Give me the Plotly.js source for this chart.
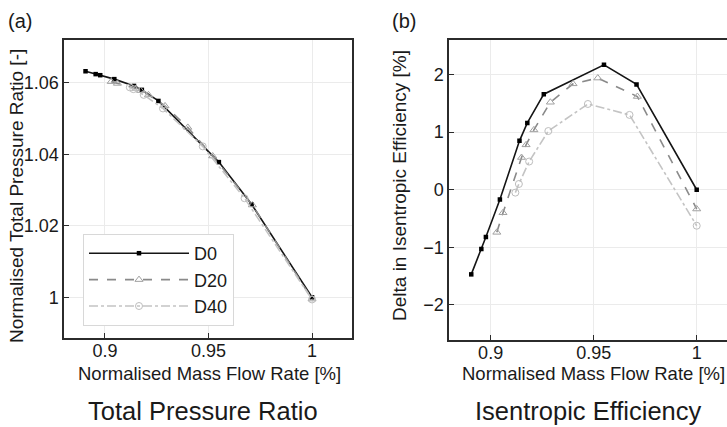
<!DOCTYPE html>
<html>
<head>
<meta charset="utf-8">
<script src="https://cdn.plot.ly/plotly-3.0.1.min.js"></script>
<style>html,body{margin:0;padding:0;background:#fff}#chart{width:727px;height:427px}</style>
</head>
<body>
<div id="chart"></div>
<script>
// ---- data ----
const seriesNames = ["D0", "D20", "D40"];

const massD0  = [0.8906, 0.8955, 0.8977, 0.9045, 0.914, 0.9178, 0.9258, 0.955, 0.9708, 1.0];
const prD0    = [1.0632, 1.0624, 1.0621, 1.061, 1.0591, 1.058, 1.0549, 1.0378, 1.026, 1.0];
const effD0   = [-1.47, -1.03, -0.82, -0.17, 0.85, 1.16, 1.66, 2.17, 1.83, 0.0];

const massD20 = [0.903, 0.906, 0.915, 0.9172, 0.921, 0.929, 0.94, 0.952, 0.9712, 1.0];
const prD20   = [1.0603, 1.0598, 1.0584, 1.0578, 1.0566, 1.0535, 1.0475, 1.0395, 1.0258, 0.9995];
const effD20  = [-0.74, -0.40, 0.56, 0.78, 1.04, 1.52, 1.84, 1.94, 1.62, -0.335];

const massD40 = [0.912, 0.9137, 0.9187, 0.928, 0.9472, 0.9674, 1.0];
const prD40   = [1.0587, 1.0582, 1.0566, 1.0528, 1.0422, 1.0277, 0.9994];
const effD40  = [-0.05, 0.10, 0.49, 1.02, 1.49, 1.30, -0.625];

const xTickVals = [0.9, 0.95, 1];
const xTickText = ["0.9", "0.95", "1"];
const prTickVals = [1, 1.02, 1.04, 1.06];
const prTickText = ["1", "1.02", "1.04", "1.06"];
const effTickVals = [-2, -1, 0, 1, 2];
const effTickText = ["\u22122", "\u22121", "0", "1", "2"];

const xTitle = "Normalised Mass Flow Rate [%]";
const yTitleA = "Normalised Total Pressure Ratio [-]";
const yTitleB = "Delta in Isentropic Efficiency [%]";
const panelTitles = ["Total Pressure Ratio", "Isentropic Efficiency"];
const panelLabels = ["(a)", "(b)"];

// ---- styles ----
const FONT = "Liberation Sans, Arial, Helvetica, sans-serif";
const TXT = "#1a1a1a";
const styles = [
  {line: {color: "#151515", width: 1.6, dash: "solid"},
   marker: {symbol: "square", size: 4.5, color: "#000"}},
  {line: {color: "#8a8a8a", width: 1.6, dash: "dash"},
   marker: {symbol: "triangle-up-open", size: 7, color: "#a0a0a0", line: {width: 1}}},
  {line: {color: "#c4c4c4", width: 1.6, dash: "dashdot"},
   marker: {symbol: "circle-open", size: 7, color: "#bdbdbd", line: {width: 1}}}
];
const massArr = [massD0, massD20, massD40];
const prArr = [prD0, prD20, prD40];
const effArr = [effD0, effD20, effD40];

const traces = [];
for (let i = 0; i < 3; i++) {
  traces.push({
    x: massArr[i], y: prArr[i], xaxis: "x", yaxis: "y",
    type: "scatter", mode: "lines+markers", name: seriesNames[i],
    line: styles[i].line, marker: styles[i].marker, showlegend: true
  });
}
for (let i = 0; i < 3; i++) {
  traces.push({
    x: massArr[i], y: effArr[i], xaxis: "x2", yaxis: "y2",
    type: "scatter", mode: "lines+markers", name: seriesNames[i],
    line: styles[i].line, marker: styles[i].marker, showlegend: false
  });
}

const W = 727, H = 427;
const px = v => v / W;
const py = v => 1 - v / H;

const axisCommon = {
  showgrid: true, gridcolor: "#ebebeb", gridwidth: 1,
  zeroline: false, showline: true, linecolor: "#2b2b2b", linewidth: 1.6,
  ticks: "inside", ticklen: 5, tickcolor: "#2b2b2b", tickwidth: 1,
  tickfont: {family: FONT, size: 18, color: TXT}
};

function ann(text, x, y, size, angle) {
  return {text: text, xref: "paper", yref: "paper", x: px(x), y: py(y),
          xanchor: "center", yanchor: "middle", showarrow: false, textangle: angle || 0,
          font: {family: FONT, size: size, color: TXT}};
}

const layout = {
  width: W, height: H,
  margin: {l: 0, r: 0, t: 0, b: 0},
  paper_bgcolor: "#fff", plot_bgcolor: "#fff",
  font: {family: FONT, color: TXT},
  xaxis: Object.assign({}, axisCommon, {
    domain: [px(64), px(352)], range: [0.8802, 1.0193], anchor: "y",
    tickvals: xTickVals, ticktext: xTickText, mirror: true, ticklabelstandoff: -4
  }),
  yaxis: Object.assign({}, axisCommon, {
    domain: [py(338), py(40)], range: [0.98862, 1.07194], anchor: "x",
    tickvals: prTickVals, ticktext: prTickText, mirror: true
  }),
  xaxis2: Object.assign({}, axisCommon, {
    domain: [px(449), 1], range: [0.8798, 1.0147], anchor: "y2",
    tickvals: xTickVals, ticktext: xTickText, mirror: true, ticklabelstandoff: -4
  }),
  yaxis2: Object.assign({}, axisCommon, {
    domain: [py(340), py(39.5)], range: [-2.61, 2.61], anchor: "x2",
    tickvals: effTickVals, ticktext: effTickText, mirror: false
  }),
  legend: {
    x: px(83), y: py(234), xanchor: "left", yanchor: "top",
    bgcolor: "#fff", bordercolor: "#d8d8d8", borderwidth: 1,
    font: {family: FONT, size: 18, color: TXT},
    itemwidth: 100, tracegroupgap: 0
  },
  annotations: [
    ann(panelLabels[0], 20, 21, 20),
    ann(panelLabels[1], 404, 21, 20),
    ann(panelTitles[0], 203, 411, 25.5),
    ann(panelTitles[1], 588, 411, 25.5),
    ann(xTitle, 209, 373, 18.5),
    ann(xTitle, 593, 373.5, 18.5),
    ann(yTitleA, 16, 196, 19, -90),
    ann(yTitleB, 399, 186, 19, -90)
  ]
};

Plotly.newPlot("chart", traces, layout, {displayModeBar: false, staticPlot: true});
</script>
</body>
</html>
